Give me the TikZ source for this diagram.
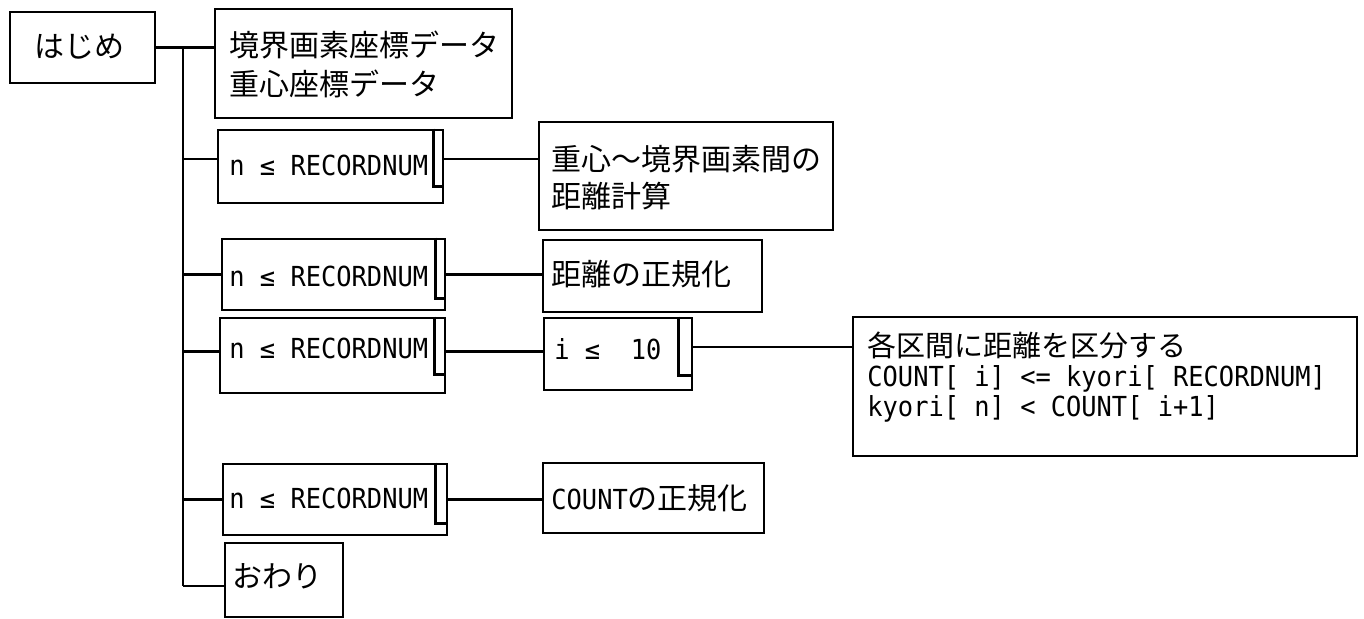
\documentclass[tikz,border=0pt]{standalone}
\usepackage{fontspec}
\newfontfamily\jp{Noto Sans CJK JP}
\newfontfamily\lat[FakeStretch=0.92]{DejaVu Sans Mono}
\newcommand\latn[1]{{\lat\fontsize{13.8}{15}\selectfont #1}}
\setlength{\lineskiplimit}{-20pt}
\usetikzlibrary{calc}
\begin{document}
\begin{tikzpicture}[x=0.5pt,y=-0.5pt,
  box/.style={draw, line width=1.3pt, inner sep=0pt},
  jt/.style={font=\jp\fontsize{15}{19.5}\selectfont, anchor=west, inner sep=0pt, align=left},
  lt/.style={font=\lat\fontsize{13.8}{15}\selectfont, anchor=west, inner sep=0pt, align=left},
  conn/.style={line width=1.1pt},
  bar/.style={line width=1.3pt}]
\useasboundingbox (0,0) rectangle (1364,618);

% boxes
\node[box, minimum width=72.5pt, minimum height=35.5pt] (start) at (82.5,47.5) {};
\node[box, minimum width=148.5pt, minimum height=54.5pt] (data) at (363.5,63.5) {};
\node[box, minimum width=112.5pt, minimum height=36.5pt] (loop1) at (330.5,166.5) {};
\node[box, minimum width=147pt, minimum height=54pt] (calc) at (686,176) {};
\node[box, minimum width=111.5pt, minimum height=35.5pt] (loop2) at (333.5,274.5) {};
\node[box, minimum width=109.5pt, minimum height=36pt] (norm) at (652.5,276) {};
\node[box, minimum width=112.5pt, minimum height=37.5pt] (loop3) at (332.5,355.5) {};
\node[box, minimum width=74pt, minimum height=36pt] (inner) at (618,354) {};
\node[box, minimum width=252pt, minimum height=69.5pt] (big) at (1105,386.5) {};
\node[box, minimum width=112pt, minimum height=35.5pt] (loop4) at (335,499.5) {};
\node[box, minimum width=110.5pt, minimum height=35pt] (cnorm) at (653.5,498) {};
\node[box, minimum width=59pt, minimum height=37pt] (end) at (284,580) {};

% texts
\node[jt] (startt) at (34,47) {はじめ};
\node[jt] (datat) at (229,64.5) {境界画素座標データ\\重心座標データ};
\node[lt] (loop1t) at (229,165) {n ≤ RECORDNUM};
\node[jt, font=\jp\fontsize{15}{18.5}\selectfont] (calct) at (551,178) {重心〜境界画素間の\\距離計算};
\node[lt] (loop2t) at (229,276) {n ≤ RECORDNUM};
\node[jt] (normt) at (551,274) {距離の正規化};
\node[lt] (loop3t) at (229,348) {n ≤ RECORDNUM};
\node[lt] (innert) at (554,349) {i\ ≤\ \ 10};
\node[jt, font=\jp\fontsize{14.5}{15.2}\selectfont] (bigt) at (867,377)
  {各区間に距離を区分する\\\latn{COUNT[\ i]\ <=\ kyori[\ RECORDNUM]}\\\latn{kyori[\ n]\ <\ COUNT[\ i+1]}};
\node[lt] (loop4t) at (229,498) {n ≤ RECORDNUM};
\node[jt] (cnormt) at (551,498) {\latn{COUNT}の正規化};
\node[jt] (endt) at (232,576) {おわり};

% connector end points
\coordinate (trunk) at (183,0);
\coordinate (l1w) at ([yshift=3.75pt]loop1.west);
\coordinate (l1e) at ([yshift=3.75pt]loop1.east);
\coordinate (l3w) at ([yshift=2pt]loop3.west);
\coordinate (l3e) at ([yshift=2pt]loop3.east);
\coordinate (ine) at ([yshift=3.5pt]inner.east);
\coordinate (enw) at ([yshift=-3pt]end.west);

% connectors
\draw[conn] (start.east) -- (start.east -| data.west);
\draw[conn] (trunk |- start.east) -- (trunk |- enw);
\draw[conn] (trunk |- l1w) -- (l1w);
\draw[conn] (l1e) -- (l1e -| calc.west);
\draw[conn] (trunk |- loop2.west) -- (loop2.west);
\draw[conn] (loop2.east) -- (loop2.east -| norm.west);
\draw[conn] (trunk |- l3w) -- (l3w);
\draw[conn] (l3e) -- (l3e -| inner.west);
\draw[conn] (ine) -- (ine -| big.west);
\draw[conn] (trunk |- loop4.west) -- (loop4.west);
\draw[conn] (loop4.east) -- (loop4.east -| cnorm.west);
\draw[conn] (trunk |- enw) -- (enw);

% loop brackets
\draw[bar] ([xshift=-5.5pt]loop1.north east) |- ([yshift=9pt]loop1.south east);
\draw[bar] ([xshift=-5.5pt]loop2.north east) |- ([yshift=6.5pt]loop2.south east);
\draw[bar] ([xshift=-6pt]loop3.north east) |- ([yshift=10pt]loop3.south east);
\draw[bar] ([xshift=-7.5pt]inner.north east) |- ([yshift=8pt]inner.south east);
\draw[bar] ([xshift=-6.5pt]loop4.north east) |- ([yshift=6.5pt]loop4.south east);
\end{tikzpicture}
\end{document}
